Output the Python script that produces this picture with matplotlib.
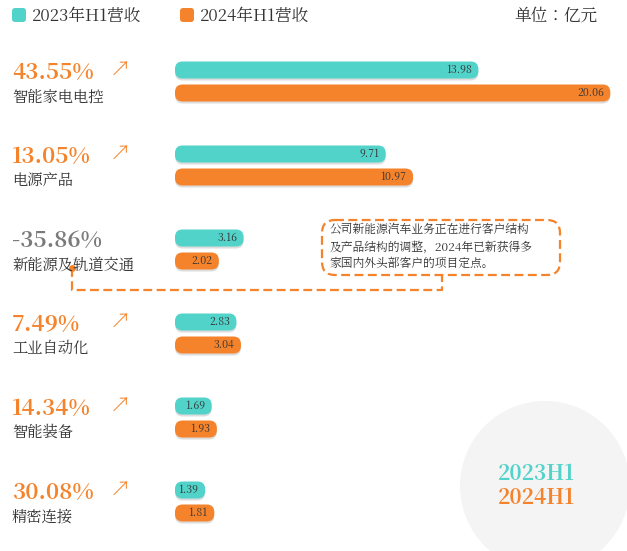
import matplotlib
matplotlib.use("Agg")
import matplotlib.pyplot as plt
from matplotlib import font_manager
from matplotlib.patches import FancyBboxPatch, Ellipse

cjk = [f.name for f in font_manager.fontManager.ttflist if "CJK" in f.name]
plt.rcParams["font.family"] = ["Noto Sans CJK SC"] + cjk + ["DejaVu Sans"]

CATEGORIES = ["智能家电电控", "电源产品", "新能源及轨道交通", "工业自动化", "智能装备", "精密连接"]
GROWTH = ["43.55%", "13.05%", "-35.86%", "7.49%", "14.34%", "30.08%"]
REV_2023 = [13.98, 9.71, 3.16, 2.83, 1.69, 1.39]
REV_2024 = [20.06, 10.97, 2.02, 3.04, 1.93, 1.81]

TEAL = "#52d3c9"
ORANGE = "#f5832b"
PX = 21.7  # pixels per unit
X0 = 175

fig = plt.figure(figsize=(6.27, 5.51), dpi=100)
ax = fig.add_axes([0, 0, 1, 1])
ax.set_xlim(-X0 / PX, (627 - X0) / PX)
ax.set_ylim(551, 0)
ax.axis("off")


def px(x):
    return (x - X0) / PX


def bar(y, v, color):
    h = 17
    ax.add_patch(FancyBboxPatch((0, y - h / 2 + 2), v, h, boxstyle="round,pad=0,rounding_size=0.35",
                                mutation_aspect=PX, fc="#dddddd", ec="none", zorder=1))
    ax.add_patch(FancyBboxPatch((0, y - h / 2), v, h, boxstyle="round,pad=0,rounding_size=0.35",
                                mutation_aspect=PX, fc=color, ec="none", zorder=2))
    ax.text(v - 0.3, y, f"{v:.2f}", ha="right", va="center", fontsize=7.5, color="#333333", zorder=3)


for i, (cat, g, a, b) in enumerate(zip(CATEGORIES, GROWTH, REV_2023, REV_2024)):
    yc = 70 + i * 84
    bar(yc, a, TEAL)
    bar(yc + 23, b, ORANGE)
    neg = g.startswith("-")
    ax.text(px(12), yc + 3, g, ha="left", va="center", fontsize=16, fontweight="bold",
            color="#7a7a7a" if neg else ORANGE)
    if not neg:
        ax.text(px(110), yc, "↗", ha="left", va="center", fontsize=15, fontweight="bold", color=ORANGE)
    ax.text(px(12), yc + 27, cat, ha="left", va="center", fontsize=11, color="#333333")

# legend
ax.add_patch(FancyBboxPatch((px(12), 8), 14 / PX, 14, boxstyle="round,pad=0,rounding_size=0.15",
                            mutation_aspect=PX, fc=TEAL, ec="none"))
ax.text(px(32), 16, "2023年H1营收", va="center", fontsize=12, color="#333333")
ax.add_patch(FancyBboxPatch((px(180), 8), 14 / PX, 14, boxstyle="round,pad=0,rounding_size=0.15",
                            mutation_aspect=PX, fc=ORANGE, ec="none"))
ax.text(px(200), 16, "2024年H1营收", va="center", fontsize=12, color="#333333")
ax.text(px(598), 16, "单位：亿元", ha="right", va="center", fontsize=12, color="#333333")

# callout
ax.add_patch(FancyBboxPatch((px(322), 220), (560 - 322) / PX, 55, boxstyle="round,pad=0,rounding_size=0.6",
                            mutation_aspect=PX, fc="white", ec=ORANGE, lw=1.6, ls=(0, (4, 2))))
ax.text(px(330), 247, "公司新能源汽车业务正在进行客户结构\n及产品结构的调整，2024年已新获得多\n家国内外头部客户的项目定点。",
        va="center", fontsize=8.5, color="#333333", linespacing=1.5)
ax.plot([px(72), px(72), px(442), px(442)], [268, 290, 290, 276], color=ORANGE, lw=1.6, ls=(0, (4, 2)))
ax.plot([px(72)], [268], "o", color=ORANGE, ms=4)

# corner badge
ax.add_patch(Ellipse((px(545), 486), 170 / PX, 170, fc="#f4f4f4", ec="none", zorder=0))
ax.text(px(575), 474, "2023H1", ha="right", va="center", fontsize=15, fontweight="bold", color=TEAL)
ax.text(px(575), 498, "2024H1", ha="right", va="center", fontsize=15, fontweight="bold", color=ORANGE)

fig.savefig("out.png", dpi=100)
